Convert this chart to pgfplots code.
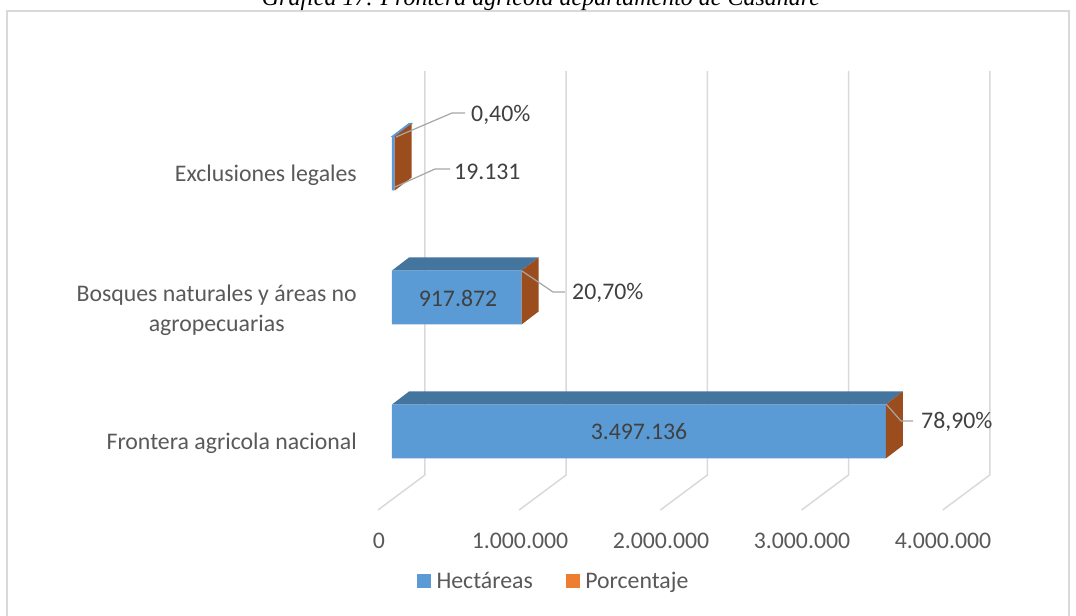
\documentclass[border=0pt]{standalone}
\usepackage{pgfplots}
\pgfplotsset{compat=1.18}
\usepackage{fontspec}
\setmainfont{Carlito}
\newfontfamily\titlefont{Liberation Serif}
\definecolor{cfront}{HTML}{5B9BD5}
\definecolor{ctop}{HTML}{44759F}
\definecolor{cside}{HTML}{9C4D1E}
\definecolor{corange}{HTML}{ED7D31}
\definecolor{cgrid}{HTML}{D9D9D9}
\definecolor{clead}{HTML}{A6A6A6}
\definecolor{ctext}{HTML}{595959}
\definecolor{cdark}{HTML}{404040}
\newcommand{\lblfont}{\fontsize{23.8bp}{30bp}\selectfont}
\begin{document}
\begin{tikzpicture}
\path[use as bounding box] (0,0) rectangle (1076bp,616bp);
\begin{axis}[
  at={(0,0)}, anchor=south west,
  scale only axis, width=1076bp, height=616bp,
  xmin=-2776204, xmax=4844193, ymin=-1.37687, ymax=3.22015,
  hide axis, clip=false,
  legend style={at={(0.3875,0.0568)}, anchor=west, draw=none, fill=none,
    font=\lblfont, text=ctext, legend columns=2, inner sep=0pt,
    nodes={inner xsep=6bp, inner ysep=2bp},
    /tikz/every even column/.append style={column sep=27bp}},
  legend cell align=left,
]
% gridlines (back wall + floor)
\addplot[cgrid, line width=1.5bp, forget plot] coordinates {(233711,2.6903) (233711,-0.3246) (-99150,-0.5858)};
\addplot[cgrid, line width=1.5bp, forget plot] coordinates {(1233711,2.6903) (1233711,-0.3246) (900850,-0.5858)};
\addplot[cgrid, line width=1.5bp, forget plot] coordinates {(2233711,2.6903) (2233711,-0.3246) (1900850,-0.5858)};
\addplot[cgrid, line width=1.5bp, forget plot] coordinates {(3233711,2.6903) (3233711,-0.3246) (2900850,-0.5858)};
\addplot[cgrid, line width=1.5bp, forget plot] coordinates {(4233711,2.6903) (4233711,-0.3246) (3900850,-0.5858)};
% front faces (Hectareas)
\addplot[xbar, bar width=54bp, fill=cfront, draw=none, forget plot] coordinates {(3497136,0) (917872,1) (19131,2)};
% top faces
\addplot[fill=ctop, draw=none, forget plot] coordinates {(0,0.2015) (3497136,0.2015) (3617533,0.2985) (120397,0.2985)} -- cycle;
\addplot[fill=ctop, draw=none, forget plot] coordinates {(0,1.2015) (917872,1.2015) (1038269,1.2985) (120397,1.2985)} -- cycle;
\addplot[fill=cfront, draw=cfront, line width=1bp, forget plot] coordinates {(0,2.2015) (19131,2.2015) (139528,2.2985) (120397,2.2985)} -- cycle;
% side faces
\addplot[fill=cside, draw=none, forget plot] coordinates {(3497136,-0.2015) (3497136,0.2015) (3617533,0.2985) (3617533,-0.1045)} -- cycle;
\addplot[fill=cside, draw=none, forget plot] coordinates {(917872,0.7985) (917872,1.2015) (1038269,1.2985) (1038269,0.8955)} -- cycle;
\addplot[fill=cside, draw=none, forget plot] coordinates {(19131,1.7985) (19131,2.2015) (139528,2.2985) (139528,1.8955)} -- cycle;
\addlegendimage{legend image code/.code={\fill[cfront] (0bp,-6.5bp) rectangle (13bp,6.5bp);}}
\addlegendentry{Hectáreas}
\addlegendimage{legend image code/.code={\fill[corange] (0bp,-6.5bp) rectangle (13bp,6.5bp);}}
\addlegendentry{Porcentaje}
\end{axis}
\begin{scope}[x=1bp,y=-1bp,yshift=616bp, every node/.style={font=\lblfont, inner sep=0pt}]
\draw[cgrid, line width=1.5bp] (7,11) rectangle (1069,640);
\node[anchor=base, font=\titlefont\itshape\fontsize{24bp}{28bp}\selectfont] at (541,6) {Gráfica 17. Frontera agrícola departamento de Casanare};
% category labels
\node[anchor=east, text=ctext] at (357,175) {Exclusiones legales};
\node[anchor=east, text=ctext, align=center] at (357,310) {Bosques naturales y áreas no\\agropecuarias};
\node[anchor=east, text=ctext] at (357,443) {Frontera agricola nacional};
% tick labels
\node[text=ctext] at (379,541) {0};
\node[text=ctext] at (520,541) {1.000.000};
\node[text=ctext] at (661,541) {2.000.000};
\node[text=ctext] at (802,541) {3.000.000};
\node[text=ctext] at (943,541) {4.000.000};
% data labels
\node[text=cdark] at (639,432) {3.497.136};
\node[text=cdark] at (458,298) {917.872};
\draw[clead, line width=1.2bp] (395,187) -- (435,169) -- (450,169);
\node[anchor=west, text=cdark] at (454,172) {19.131};
\draw[clead, line width=1.2bp] (396,137) -- (452,113) -- (465,113);
\node[anchor=west, text=cdark] at (471,115) {0,40\%};
\draw[clead, line width=1.2bp] (522,271) -- (553,292) -- (565,292);
\node[anchor=west, text=cdark] at (572,293) {20,70\%};
\draw[clead, line width=1.2bp] (886,404) -- (901,421) -- (913,421);
\node[anchor=west, text=cdark] at (921,422) {78,90\%};
\end{scope}
\end{tikzpicture}
\end{document}
